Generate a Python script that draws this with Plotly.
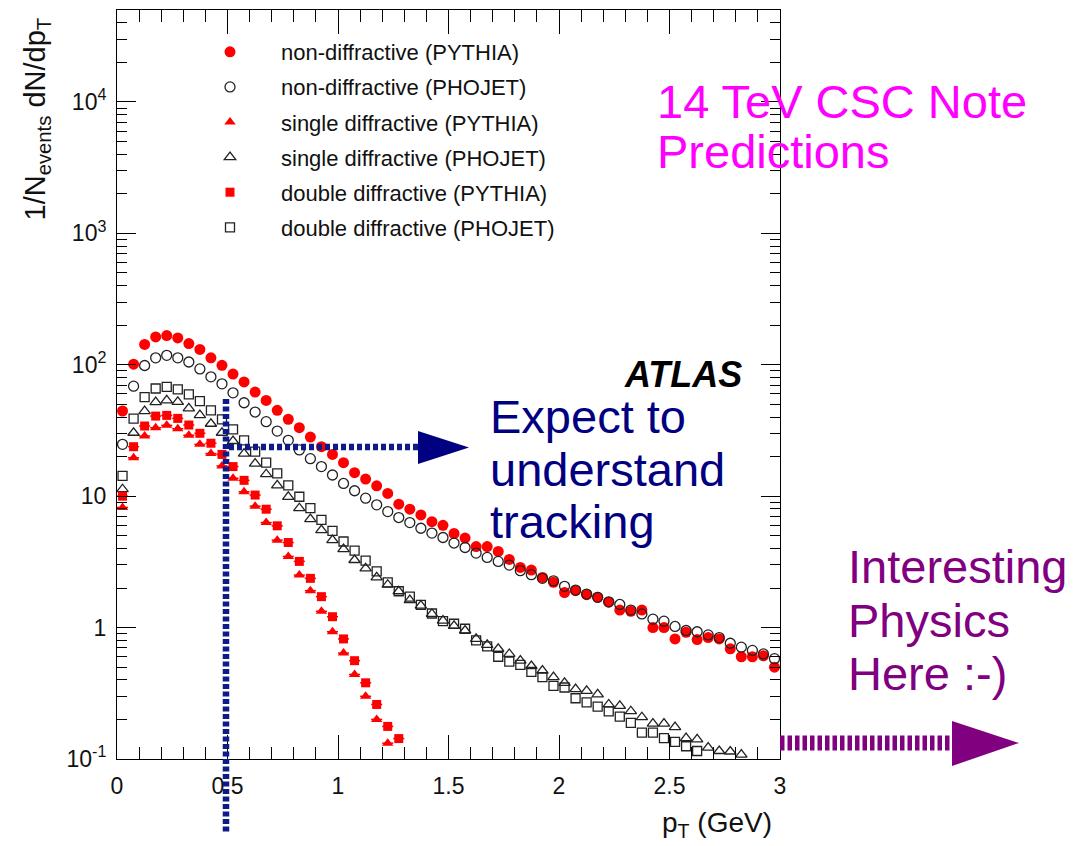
import plotly.graph_objects as go

# ---------------- data ----------------
pt = [0.025, 0.075, 0.125, 0.175, 0.225, 0.275, 0.325, 0.375, 0.425, 0.475,
      0.525, 0.575, 0.625, 0.675, 0.725, 0.775, 0.825, 0.875, 0.925, 0.975,
      1.025, 1.075, 1.125, 1.175, 1.225, 1.275, 1.325, 1.375, 1.425, 1.475,
      1.525, 1.575, 1.625, 1.675, 1.725, 1.775, 1.825, 1.875, 1.925, 1.975,
      2.025, 2.075, 2.125, 2.175, 2.225, 2.275, 2.325, 2.375, 2.425, 2.475,
      2.525, 2.575, 2.625, 2.675, 2.725, 2.775, 2.825, 2.875, 2.925, 2.975]

nd_pythia = [44.5, 101, 143, 163, 167, 160, 145, 131, 113, 99,
             85, 74, 62, 53.6, 45, 38.5, 33.2, 28.2, 23.8, 20.8,
             18.0, 15.1, 13.5, 12.0, 10.5, 8.7, 7.96, 7.2, 6.4, 6.0,
             5.2, 4.8, 4.14, 4.14, 3.8, 3.3, 2.87, 2.74, 2.41, 2.21,
             1.85, 1.91, 1.78, 1.70, 1.56, 1.36, 1.33, 1.36, 1.0, 1.0,
             0.82, 0.92, 0.81, 0.84, 0.82, 0.69, 0.60, 0.60, 0.61, 0.50]

nd_phojet = [24.8, 68.8, 98.8, 113, 118, 113, 105, 93, 81, 71.6,
             61.2, 51.4, 43.7, 36.9, 31.3, 26.6, 22.5, 19.3, 16.8, 14.5,
             12.5, 11.0, 9.66, 8.59, 7.64, 6.88, 6.3, 5.7, 5.24, 4.85,
             4.40, 4.07, 3.69, 3.42, 3.19, 2.99, 2.71, 2.53, 2.37, 2.27,
             2.06, 1.93, 1.80, 1.70, 1.57, 1.50, 1.36, 1.27, 1.16, 1.12,
             1.02, 0.95, 0.93, 0.88, 0.84, 0.76, 0.71, 0.67, 0.63, 0.58]

sd_pythia = [8.2, 19.6, 28.7, 33.2, 34.6, 32.6, 29.1, 24.8, 21.1, 17.0,
             13.7, 10.8, 8.4, 6.3, 4.63, 3.48, 2.51, 1.91, 1.33, 0.93,
             0.64, 0.44, 0.30, 0.20, 0.132, None, None, None, None, None,
             None, None, None, None, None, None, None, None, None, None,
             None, None, None, None, None, None, None, None, None, None,
             None, None, None, None, None, None, None, None, None, None]

sd_phojet = [11.3, 30.4, 44.4, 52, 53.6, 52.3, 46.6, 41.4, 35.6, 30.4,
             26.3, 21.1, 17.7, 14.7, 12.1, 9.89, 8.1, 6.69, 5.52, 4.63,
             3.96, 3.27, 2.82, 2.41, 2.12, 1.89, 1.62, 1.47, 1.27, 1.13,
             1.03, 0.95, 0.82, 0.74, 0.69, 0.63, 0.56, 0.51, 0.47, 0.42,
             0.38, 0.34, 0.33, 0.31, 0.26, 0.254, 0.231, 0.208, 0.186, 0.186,
             0.175, 0.144, 0.141, 0.122, 0.115, 0.114, 0.108, None, None, None]

dd_pythia = [10.0, 23.8, 34.2, 40.7, 41.2, 39.1, 34.8, 30.1, 25.3, 20.8,
             16.8, 13.2, 10.2, 7.96, 5.95, 4.44, 3.19, 2.37, 1.72, 1.21,
             0.82, 0.56, 0.38, 0.26, 0.177, 0.143, None, None, None, None,
             None, None, None, None, None, None, None, None, None, None,
             None, None, None, None, None, None, None, None, None, None,
             None, None, None, None, None, None, None, None, None, None]

dd_phojet = [14.3, 39, 56.8, 66, 68, 65, 59.5, 52.9, 45, 38.4,
             32.3, 26.6, 21.8, 18.0, 14.9, 12.1, 9.9, 8.1, 6.61, 5.45,
             4.52, 3.85, 3.23, 2.68, 2.21, 1.89, 1.72, 1.49, 1.28, 1.12,
             1.07, 0.98, 0.80, 0.72, 0.60, 0.55, 0.52, 0.46, 0.42, 0.36,
             0.35, 0.29, 0.27, 0.25, 0.23, 0.21, 0.188, 0.159, 0.159, 0.144,
             0.135, 0.125, 0.115, None, None, None, None, None, None, None]

bin_half_width = 0.025

series_names = ["non-diffractive (PYTHIA)", "non-diffractive (PHOJET)",
                "single diffractive (PYTHIA)", "single diffractive (PHOJET)",
                "double diffractive (PYTHIA)", "double diffractive (PHOJET)"]

x_tickvals = [0, 0.5, 1, 1.5, 2, 2.5, 3]
x_ticktext = ["0", "0.5", "1", "1.5", "2", "2.5", "3"]
y_tickvals = [0.1, 1, 10, 100, 1000, 10000]
y_ticktext = ["10<sup>-1</sup>", "1", "10", "10<sup>2</sup>", "10<sup>3</sup>", "10<sup>4</sup>"]

# ---------------- styles ----------------
FONT = "Liberation Sans, Arial, Helvetica, sans-serif"
RED = "#ff0000"
DARK = "#222222"
NAVY = "#000080"
NAVY_LINE = "#0c1a8a"
MAGENTA = "#ff00ff"
PURPLE = "#800080"

styles = [
    dict(symbol="circle", color=RED, size=11, line=dict(width=0)),
    dict(symbol="circle-open", color=DARK, size=10, line=dict(width=1.3)),
    dict(symbol="triangle-up", color=RED, size=10, line=dict(width=0)),
    dict(symbol="triangle-up-open", color=DARK, size=10, line=dict(width=1.3)),
    dict(symbol="square", color=RED, size=9, line=dict(width=0)),
    dict(symbol="square-open", color=DARK, size=9, line=dict(width=1.3)),
]
all_series = [nd_pythia, nd_phojet, sd_pythia, sd_phojet, dd_pythia, dd_phojet]

fig = go.Figure()

# small red horizontal bin-width bars behind the red PYTHIA diffractive markers
for vals in (sd_pythia, dd_pythia):
    fig.add_trace(go.Scatter(
        x=pt, y=vals, mode="markers", showlegend=False, hoverinfo="skip",
        marker=dict(size=1, color="rgba(255,0,0,0)"),
        error_x=dict(type="constant", value=bin_half_width, width=0,
                     thickness=1.5, color=RED)))

for i, (name, vals, st) in enumerate(zip(series_names, all_series, styles)):
    fig.add_trace(go.Scatter(
        x=pt, y=vals, mode="markers", name=name, legendgroup=f"g{i}",
        marker=st))

# ---------------- geometry ----------------
# page body has an 8px default margin, so the figure is 8px smaller
BODY = 8
W, H = 1081 - BODY, 846 - BODY
# plot-area edges in screen pixels
L, R, T, B = 117, 780, 10, 759


def px(xp):
    return (xp - L) / (R - L)


def py(yp):
    return (B - yp) / (B - T)


shapes = [
    # vertical blue dotted line at ~0.5 GeV
    dict(type="line", xref="paper", yref="paper",
         x0=px(226), x1=px(226), y0=py(399), y1=py(832),
         line=dict(color=NAVY_LINE, width=6.5, dash="5px,2.5px")),
    # horizontal blue dotted line
    dict(type="line", xref="paper", yref="paper",
         x0=px(229), x1=px(420), y0=py(447), y1=py(447),
         line=dict(color=NAVY_LINE, width=6.5, dash="5px,3px")),
    # blue arrow head
    dict(type="path", xref="paper", yref="paper",
         path=f"M {px(418)},{py(431)} L {px(469)},{py(447.5)} L {px(418)},{py(464)} Z",
         fillcolor=NAVY, line=dict(width=0)),
    # purple dotted line
    dict(type="line", xref="paper", yref="paper",
         x0=px(780), x1=px(954), y0=py(743), y1=py(743),
         line=dict(color=PURPLE, width=15, dash="4.5px,3px")),
    # purple arrow head
    dict(type="path", xref="paper", yref="paper",
         path=f"M {px(952)},{py(721)} L {px(1019)},{py(743)} L {px(952)},{py(766)} Z",
         fillcolor=PURPLE, line=dict(width=0)),
]

annotations = []


def add_text(text, xl, yc, color, size, xanchor="left", yanchor="middle", angle=0):
    annotations.append(dict(
        text=text, xref="paper", yref="paper", x=px(xl), y=py(yc),
        xanchor=xanchor, yanchor=yanchor, showarrow=False, textangle=angle,
        font=dict(family=FONT, size=size, color=color)))


BIG = 47
add_text("14 TeV CSC Note", 655, 101, MAGENTA, BIG)
add_text("Predictions", 655, 151, MAGENTA, BIG)
add_text("Expect to", 488, 416, NAVY, BIG)
add_text("understand", 488, 469, NAVY, BIG)
add_text("tracking", 488, 521, NAVY, BIG)
add_text("Interesting", 846, 566, PURPLE, BIG)
add_text("Physics", 846, 620, PURPLE, BIG)
add_text("Here :-)", 846, 673, PURPLE, BIG)
add_text("<b><i>ATLAS</i></b>", 683, 375, "#000000", 36, xanchor="center")
add_text("1/N<sub>events</sub> dN/dp<sub>T</sub>", 37, 16, "#111111", 29,
         xanchor="center", yanchor="top", angle=-90)
add_text("p<sub>T</sub> (GeV)", 774, 824, "#111111", 28, xanchor="right")

axis_common = dict(
    showline=True, linecolor="#000000", linewidth=1, mirror="allticks",
    ticks="inside", tickcolor="#000000", tickwidth=1,
    showgrid=False, zeroline=False,
    tickfont=dict(family=FONT, size=23, color="#111111"),
)

fig.update_layout(
    width=W, height=H,
    margin=dict(l=L - BODY, r=W - (R - BODY), t=T - BODY, b=H - (B - BODY), pad=0),
    paper_bgcolor="white", plot_bgcolor="white",
    font=dict(family=FONT, color="#111111"),
    xaxis=dict(range=[0, 3], tickmode="array", tickvals=x_tickvals, ticktext=x_ticktext,
               ticklen=24, ticklabelstandoff=6,
               minor=dict(ticks="inside", ticklen=12, dtick=0.1,
                          tickcolor="#000000", showgrid=False),
               **axis_common),
    yaxis=dict(type="log", range=[-1, 4.7], tickmode="array", tickvals=y_tickvals,
               ticktext=y_ticktext, ticklen=19, ticklabelstandoff=5,
               minor=dict(ticks="inside", ticklen=10, dtick="D1",
                          tickcolor="#000000", showgrid=False),
               **axis_common),
    showlegend=True,
    legend=dict(x=px(179), y=py(31), xanchor="left", yanchor="top",
                bgcolor="rgba(0,0,0,0)", borderwidth=0,
                font=dict(family=FONT, size=22, color="#111111"),
                itemwidth=92, tracegroupgap=3.5, itemclick=False),
    shapes=shapes,
    annotations=annotations,
)

fig.write_html("out.html")
